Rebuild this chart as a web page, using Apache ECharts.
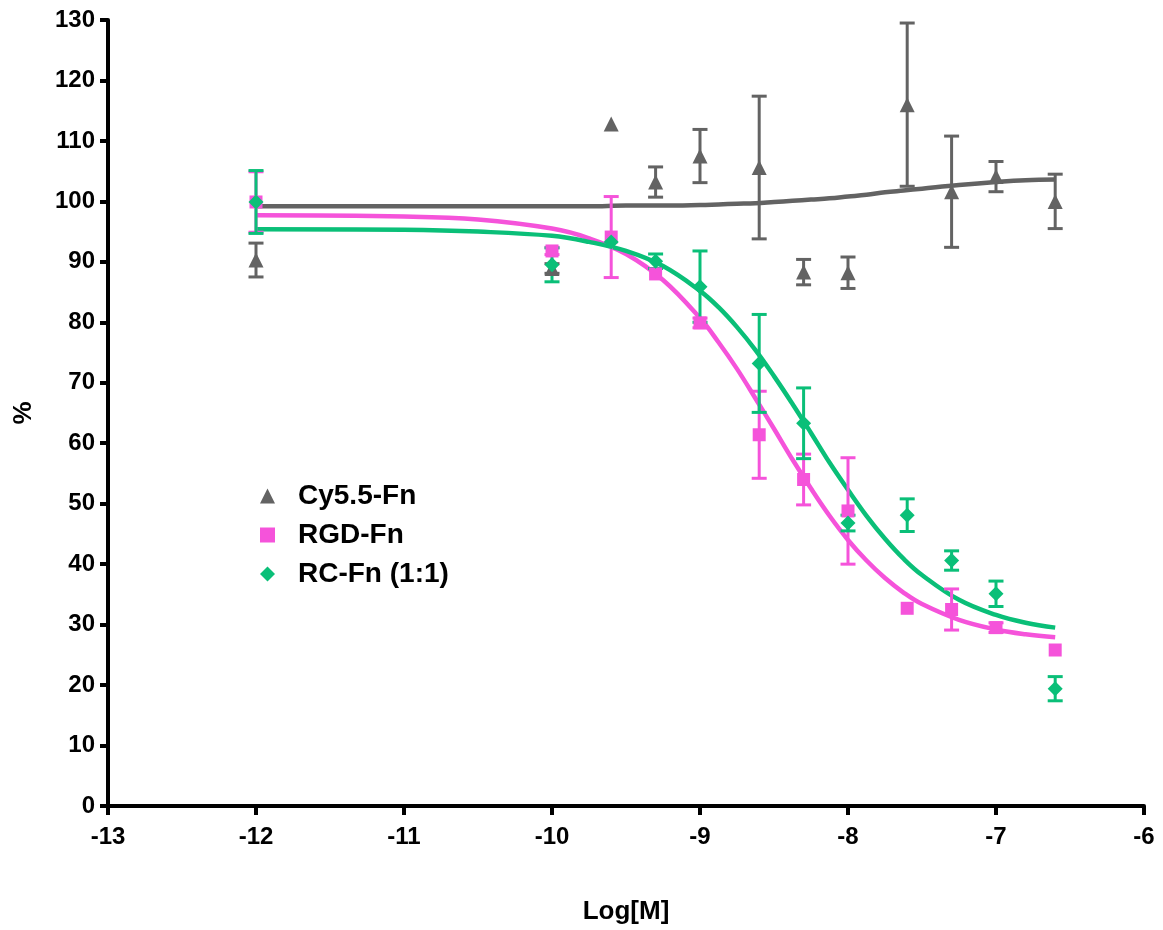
<!DOCTYPE html>
<html>
<head>
<meta charset="utf-8">
<script src="https://cdn.jsdelivr.net/npm/echarts@6/dist/echarts.min.js"></script>
<style>
html,body{margin:0;padding:0;background:#fff;}
#chart{width:1163px;height:930px;}
</style>
</head>
<body>
<div id="chart"></div>
<script>
// Concentrations (log M)
const xVals = [-12, -10, -9.6, -9.3, -9, -8.6, -8.3, -8, -7.6, -7.3, -7, -6.6];

// Measured means and error (SD) per series
const cy55Mean = [90.3, 88.9, 112.8, 103.2, 107.5, 105.6, 88.3, 88.2, 116.0, 101.6, 104.1, 100.0];
const cy55Err  = [2.8, 0.8, 0, 2.5, 4.4, 11.8, 2.1, 2.6, 13.5, 9.2, 2.5, 4.5];
const rgdMean  = [99.9, 91.8, 94.1, 88.0, 79.9, 61.4, 54.0, 48.8, 32.7, 32.5, 29.5, 25.8];
const rgdErr   = [5.0, 0.6, 6.7, 0, 0.8, 7.2, 4.2, 8.8, 0, 3.4, 0.8, 0];
const rcMean   = [99.9, 89.5, 93.3, 90.1, 85.9, 73.2, 63.3, 46.8, 48.1, 40.6, 35.1, 19.4];
const rcErr    = [5.2, 2.8, 0, 1.2, 5.9, 8.1, 5.85, 1.3, 2.7, 1.6, 2.1, 2.0];

// Fitted curves
const fitX    = [-12, -11, -10.5, -10, -9.75, -9.5, -9.25, -9, -8.875, -8.75, -8.625, -8.5, -8.375, -8.25, -8.125, -8, -7.875, -7.75, -7.625, -7.5, -7.25, -7, -6.8, -6.6];
const cy55Fit = [99.2, 99.2, 99.2, 99.2, 99.2, 99.3, 99.3, 99.4, 99.5, 99.6, 99.7, 99.9, 100.1, 100.3, 100.5, 100.8, 101.1, 101.5, 101.8, 102.1, 102.7, 103.2, 103.5, 103.6];
const rgdFit  = [97.7, 97.5, 97.0, 95.5, 93.9, 91.3, 87.0, 80.7, 76.7, 72.3, 67.4, 62.4, 57.3, 52.5, 48.0, 44.0, 40.6, 37.7, 35.3, 33.4, 30.8, 29.2, 28.4, 27.9];
const rcFit   = [95.4, 95.3, 95.0, 94.3, 93.3, 91.8, 89.3, 85.2, 82.5, 79.2, 75.4, 71.1, 66.5, 61.7, 56.8, 52.3, 48.0, 44.2, 40.9, 38.2, 34.1, 31.6, 30.3, 29.5];

const seriesNames = ['Cy5.5-Fn', 'RGD-Fn', 'RC-Fn (1:1)'];
const colors = ['#636363', '#F553DA', '#0ABF78'];
const symbols = ['triangle', 'rect', 'diamond'];
const symbolSizes = [[15, 15], [13, 13], [15, 15]];

const yTicks = { min: 0, max: 130, interval: 10 };
const xTicks = { min: -13, max: -6, interval: 1 };

const FONT = '"Liberation Sans", Arial, sans-serif';

const means = [cy55Mean, rgdMean, rcMean];
const errs = [cy55Err, rgdErr, rcErr];
const fits = [cy55Fit, rgdFit, rcFit];

function pairs(xs, ys) { return xs.map((x, i) => [x, ys[i]]); }

const series = [];
// fitted curves
fits.forEach((f, k) => {
  series.push({
    type: 'line', name: seriesNames[k] + ' fit',
    data: pairs(fitX, f), smooth: 0.4,
    showSymbol: false, symbol: 'none', silent: true,
    lineStyle: { color: colors[k], width: 4.5 }, z: 2
  });
});
// error bars
means.forEach((m, k) => {
  series.push({
    type: 'custom', name: seriesNames[k] + ' err', silent: true, z: 3,
    data: xVals.map((x, i) => [x, m[i], errs[k][i]]),
    renderItem: function (params, api) {
      const x = api.value(0), y = api.value(1), e = api.value(2);
      if (!e) return null;
      const top = api.coord([x, y + e]);
      const bot = api.coord([x, y - e]);
      const hw = 7.5;
      const st = { stroke: colors[k], lineWidth: 3 };
      return {
        type: 'group',
        children: [
          { type: 'line', shape: { x1: top[0], y1: top[1], x2: bot[0], y2: bot[1] }, style: st },
          { type: 'line', shape: { x1: top[0] - hw, y1: top[1], x2: top[0] + hw, y2: top[1] }, style: st },
          { type: 'line', shape: { x1: bot[0] - hw, y1: bot[1], x2: bot[0] + hw, y2: bot[1] }, style: st }
        ]
      };
    }
  });
});
// points
means.forEach((m, k) => {
  series.push({
    type: 'scatter', name: seriesNames[k],
    data: pairs(xVals, m), symbol: symbols[k], symbolSize: symbolSizes[k],
    itemStyle: { color: colors[k], opacity: 1 }, z: 4
  });
});

const chart = echarts.init(document.getElementById('chart'), null, { renderer: 'canvas' });
chart.setOption({
  animation: false,
  backgroundColor: '#ffffff',
  grid: { left: 108, right: 19, top: 20, bottom: 124, containLabel: false, outerBoundsMode: 'none' },
  legend: {
    data: seriesNames,
    orient: 'vertical',
    left: 255, top: 477,
    itemWidth: 15, itemHeight: 15, itemGap: 11,
    textStyle: { fontFamily: FONT, fontWeight: 'bold', fontSize: 28, color: '#000', padding: [0, 0, 0, 18], lineHeight: 28 },
    selectedMode: false
  },
  xAxis: {
    type: 'value', min: xTicks.min, max: xTicks.max, interval: xTicks.interval,
    name: 'Log[M]', nameLocation: 'middle', nameGap: 93,
    nameTextStyle: { fontFamily: FONT, fontWeight: 'bold', fontSize: 26, color: '#000' },
    axisLine: { show: true, onZero: false, lineStyle: { color: '#000', width: 4 } },
    axisTick: { show: true, inside: false, length: 9, lineStyle: { color: '#000', width: 4 } },
    axisLabel: { margin: 19, fontFamily: FONT, fontWeight: 'bold', fontSize: 24, color: '#000' },
    splitLine: { show: false }
  },
  yAxis: {
    type: 'value', min: yTicks.min, max: yTicks.max, interval: yTicks.interval,
    name: '%', nameLocation: 'middle', nameGap: 71,
    nameTextStyle: { fontFamily: FONT, fontWeight: 'bold', fontSize: 26, color: '#000' },
    axisLine: { show: true, onZero: false, lineStyle: { color: '#000', width: 4 } },
    axisTick: { show: true, inside: false, length: 8, lineStyle: { color: '#000', width: 4 } },
    axisLabel: { margin: 13, fontFamily: FONT, fontWeight: 'bold', fontSize: 24, color: '#000' },
    splitLine: { show: false }
  },
  series: series
});
</script>
</body>
</html>
